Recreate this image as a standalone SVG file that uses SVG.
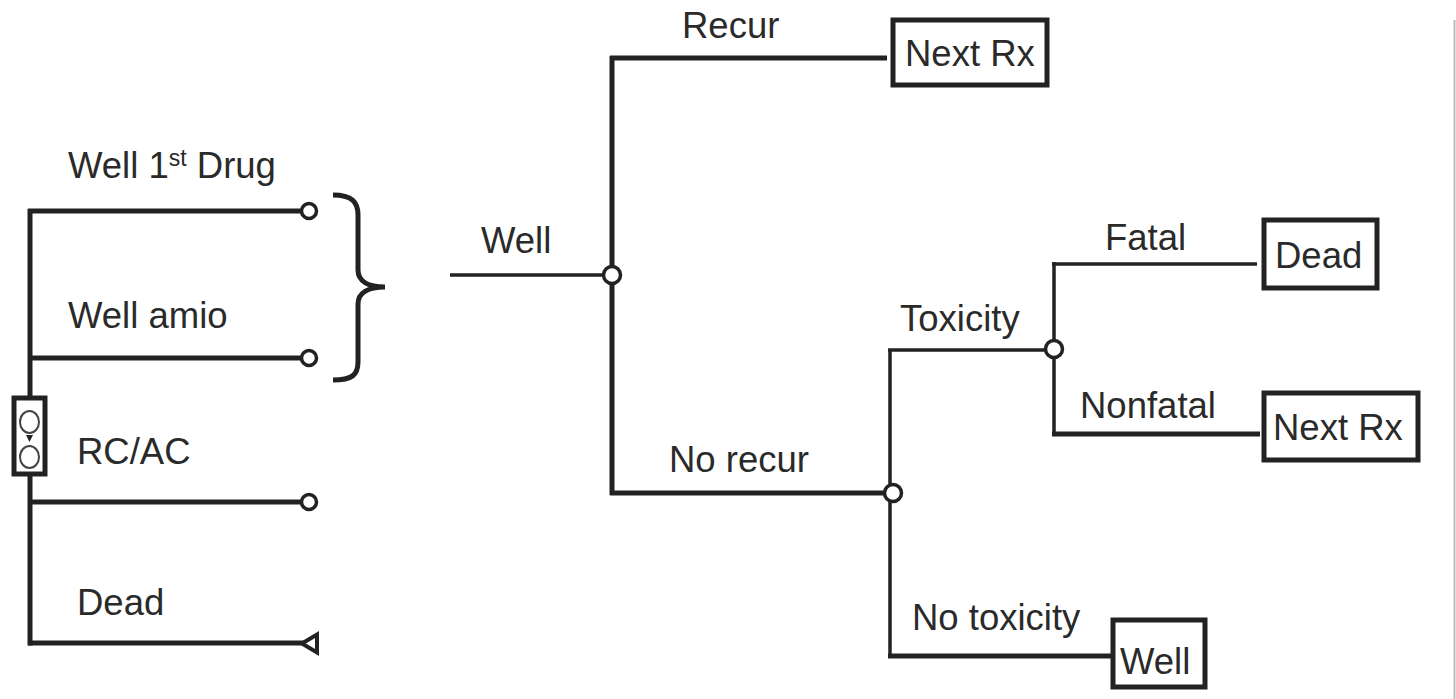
<svg xmlns="http://www.w3.org/2000/svg" width="1456" height="699" viewBox="0 0 1456 699">
<style>
.t{font-family:"Liberation Sans",Arial,sans-serif;font-size:36.5px;fill:#2a2a2a}
.thick{stroke:#222;stroke-width:5;fill:none}
.thin{stroke:#222;stroke-width:3.5;fill:none}
.node{fill:#fff;stroke:#222;stroke-width:3.5}
.box{fill:#fff;stroke:#222;stroke-width:5}
</style>
<rect width="1456" height="699" fill="#fff"/>
<line x1="1454.5" y1="20" x2="1454.5" y2="699" stroke="#bbb" stroke-width="2"/>
<g id="connectors">
<path class="thick" d="M30 209 V398 M30 475 V645.5"/>
<path class="thick" d="M28 211 H302 M28 358 H302 M28 502 H302 M28 643 H304"/>
<path class="thick" d="M333 195 C352 195 358 202 358 215 V270 C358 281 368 287 385 287 C368 287 358 293 358 304 V362 C358 375 352 380 333 380" stroke-width="3"/>
<path class="thin" d="M450 275 H604"/>
<path class="thick" d="M612 56 V495 M610 58 H887 M610 493 H885"/>
<path class="thin" d="M890 350 V657 M888 350 H1046"/>
<path class="thin" d="M1054 262 V436 M1052 264 H1257"/>
<path class="thick" d="M1052 434 H1260 M888 656 H1113"/>
</g>
<g id="markov">
<rect x="14" y="398" width="31" height="76" class="box" stroke-width="4"/>
<ellipse cx="29.5" cy="422" rx="9.5" ry="11" fill="#fff" stroke="#444" stroke-width="2"/>
<ellipse cx="29.5" cy="457" rx="9.5" ry="11" fill="#fff" stroke="#444" stroke-width="2"/>
<polygon points="26,435 33,435 29.5,442" fill="#222"/>
</g>
<g id="n-well1st"><circle cx="309" cy="211" r="7.5" class="node"/><text class="t" x="68" y="178">Well 1<tspan font-size="23" dy="-12">st</tspan><tspan dy="12"> Drug</tspan></text></g>
<g id="n-wellamio"><circle cx="309" cy="358" r="7.5" class="node"/><text class="t" x="68" y="328">Well amio</text></g>
<g id="n-rcac"><circle cx="309" cy="502" r="7.5" class="node"/><text class="t" x="77" y="464">RC/AC</text></g>
<g id="n-dead1"><polygon points="302,643.5 317,634.5 317,652.5" fill="#fff" stroke="#222" stroke-width="4" stroke-linejoin="miter"/><text class="t" x="77" y="615">Dead</text></g>
<g id="n-well"><text class="t" x="481" y="253">Well</text><circle cx="612" cy="275" r="8.5" class="node"/></g>
<g id="n-nextrx1"><rect x="893" y="20" width="154" height="65" class="box"/><text class="t" x="905" y="66">Next Rx</text><text class="t" x="682" y="38">Recur</text></g>
<g id="n-norecur"><circle cx="893" cy="493" r="8.5" class="node"/><text class="t" x="669" y="472">No recur</text></g>
<g id="n-tox"><circle cx="1054" cy="349" r="8.5" class="node"/><text class="t" x="900" y="331">Toxicity</text></g>
<g id="n-dead2"><rect x="1264" y="220" width="113" height="68" class="box"/><text class="t" x="1275" y="268">Dead</text><text class="t" x="1105" y="250">Fatal</text></g>
<g id="n-nextrx2"><rect x="1264" y="393" width="154" height="67" class="box"/><text class="t" x="1273" y="440">Next Rx</text><text class="t" x="1080" y="418">Nonfatal</text></g>
<g id="n-well2"><rect x="1113" y="620" width="92" height="67" class="box"/><text class="t" x="1120" y="674">Well</text><text class="t" x="912" y="630">No toxicity</text></g>
</svg>
